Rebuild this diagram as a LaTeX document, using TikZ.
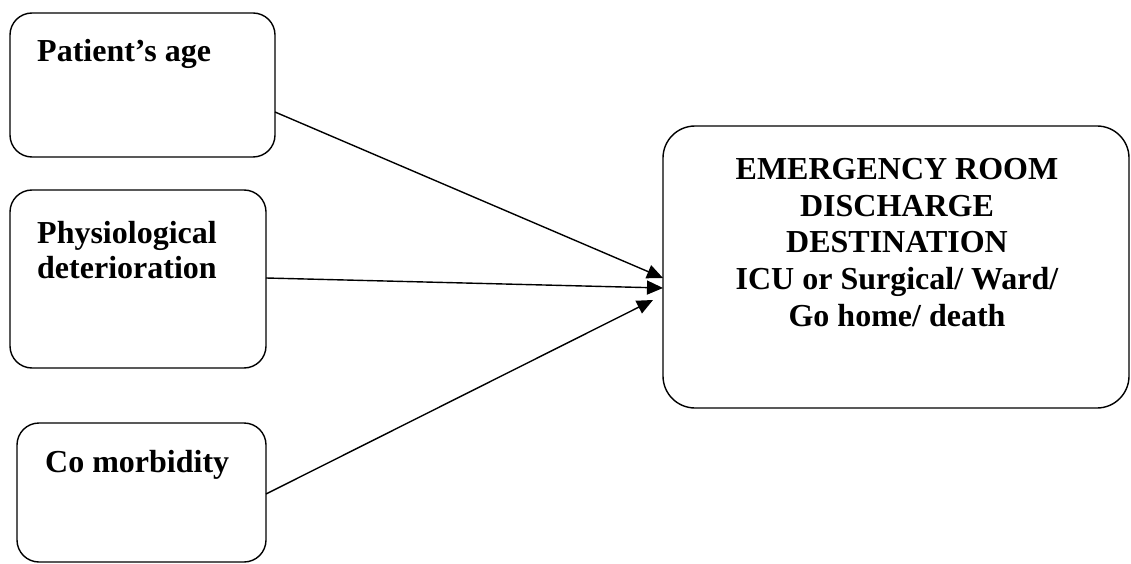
\documentclass[tikz,border=0pt]{standalone}
\usepackage{fontspec}
\setmainfont{Liberation Serif}
\usetikzlibrary{positioning,arrows.meta}

\begin{document}
\begin{tikzpicture}[x=1pt,y=1pt,->,>={Triangle[length=16pt,width=14pt]},
   every edge/.style={draw,line width=1.4pt},
   inbox/.style={draw,line width=1.4pt,rounded corners=22pt,inner sep=0pt,outer sep=0pt},
   lbl/.style={inner sep=0pt,align=left,font=\bfseries\fontsize{32}{35}\selectfont},
   dlbl/.style={inner sep=0pt,align=center,font=\bfseries\fontsize{32}{36.7}\selectfont}]
  \useasboundingbox (0,0) rectangle (1131,563);
  \node[inbox,minimum width=265pt,minimum height=144pt] (age) at (142.5,478) {};
  \node[inbox,minimum width=256pt,minimum height=178pt] (phys) at (138,284) {};
  \node[inbox,minimum width=249pt,minimum height=139pt] (como) at (141.5,70.5) {};
  \node[inbox,minimum width=466pt,minimum height=282pt,rounded corners=32pt] (dest) at (896,296) {};
  \node[lbl] (agetxt) [below right=26pt and 27pt of age.north west] {Patient’s age};
  \node[lbl] (phystxt) [below right=31pt and 27pt of phys.north west] {Physiological\\deterioration};
  \node[lbl] (comotxt) [below right=27pt and 28pt of como.north west] {Co morbidity};
  \node[dlbl] (desttxt) [below=32pt of dest.north,xshift=1pt]
    {EMERGENCY ROOM\\DISCHARGE\\DESTINATION\\ICU or Surgical/ Ward/\\Go home/ death};
  \coordinate (tip) at (653,263);
  \path
   ([yshift=-27pt]age.east) edge ([yshift=-11pt]dest.west)
   ([yshift=1pt]phys.east)  edge ([yshift=-21pt]dest.west)
   ([yshift=-1.5pt]como.east) edge (tip);
\end{tikzpicture}
\end{document}
